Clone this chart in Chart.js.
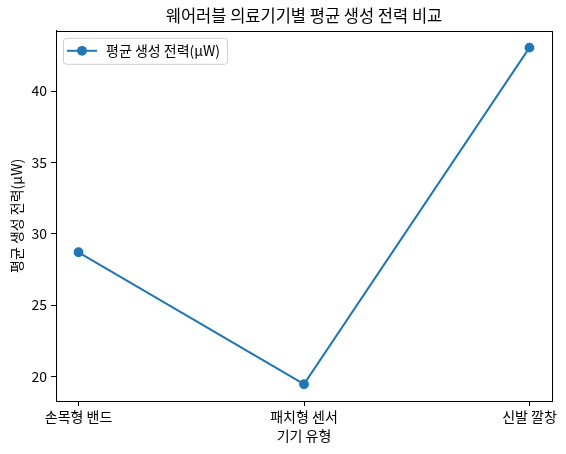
<!DOCTYPE html>
<html>
<head>
<meta charset="utf-8">
<script src="https://cdn.jsdelivr.net/npm/chart.js@4"></script>
<style>
  html, body { margin: 0; padding: 0; background: #fff; }
  #wrap { width: 566px; height: 454px; }
</style>
</head>
<body>
<div id="wrap"><canvas id="c" width="566" height="454"></canvas></div>
<script>
const categories = ['손목형 밴드', '패치형 센서', '신발 깔창'];
const powerValues = [28.7, 19.45, 43.05];
const yTicks = [20, 25, 30, 35, 40];
const seriesLabel = '평균 생성 전력(μW)';

const FONT = "'Noto Sans CJK KR', 'Noto Sans', sans-serif";
const BLUE = '#1f77b4';

// matplotlib style 5% margins
const lo = Math.min(...powerValues), hi = Math.max(...powerValues);
const pad = (hi - lo) * 0.05;

// frame + legend inside the axes, like matplotlib
const framePlugin = {
    id: 'frame',
    afterDraw(chart) {
        const { ctx, chartArea: a } = chart;
        ctx.save();
        ctx.strokeStyle = '#000';
        ctx.lineWidth = 1;
        ctx.strokeRect(Math.round(a.left) + 0.5, Math.round(a.top) + 0.5, Math.round(a.right - a.left), Math.round(a.bottom - a.top));

        // legend box
        const ds = chart.data.datasets[0];
        const x = a.left + 7, y = a.top + 7, w = 164, h = 26, r = 3;
        ctx.beginPath();
        ctx.roundRect(x + 0.5, y + 0.5, w, h, r);
        ctx.fillStyle = 'rgba(255,255,255,0.8)';
        ctx.fill();
        ctx.strokeStyle = '#d0d0d0';
        ctx.stroke();
        const cy = y + h / 2;
        ctx.beginPath();
        ctx.moveTo(x + 4, cy);
        ctx.lineTo(x + 34, cy);
        ctx.strokeStyle = ds.borderColor;
        ctx.lineWidth = 2;
        ctx.stroke();
        ctx.beginPath();
        ctx.arc(x + 19, cy, 4.9, 0, Math.PI * 2);
        ctx.fillStyle = ds.borderColor;
        ctx.fill();
        ctx.fillStyle = '#000';
        ctx.font = '14px ' + FONT;
        ctx.textBaseline = 'middle';
        ctx.fillText(ds.label, x + 43, cy);
        ctx.restore();
    }
};

new Chart(document.getElementById('c'), {
    type: 'line',
    data: {
        datasets: [{
            label: seriesLabel,
            data: powerValues.map((v, i) => ({ x: i, y: v })),
            borderColor: BLUE,
            backgroundColor: BLUE,
            borderWidth: 2,
            pointRadius: 4.2,
            pointHoverRadius: 4.2,
            pointBorderWidth: 1.4,
            pointBorderColor: BLUE,
            tension: 0
        }]
    },
    options: {
        responsive: false,
        animation: false,
        events: [],
        layout: { padding: { left: 0, right: 14, top: 0, bottom: 0 } },
        plugins: {
            legend: { display: false },
            tooltip: { enabled: false },
            title: {
                display: true,
                text: '웨어러블 의료기기별 평균 생성 전력 비교',
                color: '#000',
                fullSize: false,
                font: { family: FONT, size: 16.5, weight: 'normal' },
                padding: { top: 6, bottom: 5 }
            }
        },
        scales: {
            x: {
                type: 'linear',
                min: -0.1,
                max: 2.1,
                afterBuildTicks: s => { s.ticks = categories.map((c, i) => ({ value: i })); },
                afterFit: s => { s.height = 53; },
                ticks: {
                    color: '#000',
                    padding: 2,
                    font: { family: FONT, size: 14 },
                    callback: v => categories[v]
                },
                grid: { drawOnChartArea: false, drawTicks: true, tickLength: 5, color: '#000' },
                border: { display: true, color: '#000' },
                title: {
                    display: true,
                    text: '기기 유형',
                    color: '#000',
                    font: { family: FONT, size: 14 },
                    padding: { top: 0, bottom: 10 }
                }
            },
            y: {
                min: lo - pad,
                max: hi + pad,
                afterBuildTicks: s => { s.ticks = yTicks.map(v => ({ value: v })); },
                afterFit: s => { s.width = 56; },
                ticks: {
                    color: '#000',
                    padding: 4,
                    font: { family: FONT, size: 14 }
                },
                grid: { drawOnChartArea: false, drawTicks: true, tickLength: 5, color: '#000' },
                border: { display: true, color: '#000' },
                title: {
                    display: true,
                    text: seriesLabel,
                    color: '#000',
                    font: { family: FONT, size: 14 },
                    padding: { top: 8, bottom: 0 }
                }
            }
        }
    },
    plugins: [framePlugin]
});
</script>
</body>
</html>
